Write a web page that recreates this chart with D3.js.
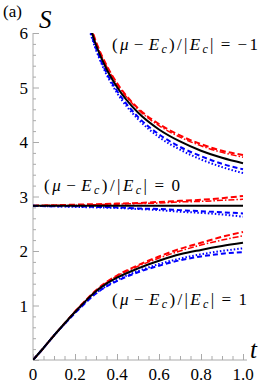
<!DOCTYPE html>
<html><head><meta charset="utf-8">
<script src="https://cdn.jsdelivr.net/npm/d3@7"></script>
<style>body{margin:0;background:#fff}svg{display:block}</style>
</head><body>
<script>
// ---- data ----
const tM1 = [0.25,0.3,0.35,0.4,0.5,0.6,0.7,0.8,0.9,1.0];
const m1Black   = [6.40,5.78,5.34,5.01,4.54,4.23,4.01,3.84,3.71,3.61];
const m1RedDash = [6.45,5.84,5.41,5.08,4.62,4.33,4.12,3.96,3.84,3.76];
const m1RedDD   = [6.43,5.82,5.39,5.06,4.60,4.30,4.09,3.93,3.81,3.72];
const m1BlueDash= [6.33,5.72,5.27,4.94,4.46,4.14,3.91,3.74,3.60,3.50];
const m1BlueDot = [6.30,5.69,5.24,4.90,4.42,4.09,3.86,3.68,3.54,3.43];

const t0 = [0,0.1,0.2,0.3,0.4,0.5,0.6,0.7,0.8,0.9,1.0];
const z0Black   = [2.83,2.83,2.83,2.83,2.83,2.83,2.83,2.83,2.83,2.83,2.83];
const z0RedDash = [2.83,2.84,2.85,2.86,2.87,2.88,2.90,2.92,2.94,2.97,3.01];
const z0RedDD   = [2.83,2.84,2.84,2.85,2.86,2.87,2.88,2.90,2.91,2.93,2.95];
const z0BlueDash= [2.83,2.82,2.82,2.81,2.80,2.78,2.77,2.75,2.73,2.71,2.69];
const z0BlueDot = [2.83,2.82,2.81,2.80,2.79,2.77,2.75,2.72,2.70,2.67,2.63];

const tP1 = [0,0.05,0.1,0.15,0.2,0.25,0.3,0.35,0.4,0.5,0.6,0.7,0.8,0.9,1.0];
const p1Black   = [0,0.22,0.45,0.67,0.88,1.08,1.26,1.40,1.51,1.68,1.82,1.94,2.02,2.09,2.15];
const p1RedDash = [0,0.22,0.45,0.67,0.89,1.09,1.28,1.43,1.55,1.74,1.90,2.04,2.15,2.26,2.35];
const p1RedDD   = [0,0.22,0.45,0.67,0.89,1.09,1.27,1.42,1.54,1.72,1.87,2.00,2.11,2.20,2.28];
const p1BlueDash= [0,0.22,0.45,0.66,0.86,1.05,1.22,1.35,1.45,1.61,1.73,1.83,1.90,1.95,1.98];
const p1BlueDot = [0,0.22,0.45,0.66,0.87,1.06,1.23,1.36,1.47,1.63,1.76,1.86,1.94,2.00,2.05];

const xTicks = [0,0.2,0.4,0.6,0.8,1.0];
const xTickLabels = ["0","0.2","0.4","0.6","0.8","1.0"];
const yTicks = [1,2,3,4,5,6];

// ---- drawing ----
const W=273,H=387;
const svg=d3.select("body").append("svg").attr("width",W).attr("height",H);
const x=d3.scaleLinear().domain([0,1]).range([33,243]);
const y=d3.scaleLinear().domain([0,6]).range([360,33]);
const serif="'Liberation Serif','DejaVu Serif',serif";

svg.append("clipPath").attr("id","clip").append("rect")
  .attr("x",x(0)).attr("y",y(6)).attr("width",x(1)-x(0)+5).attr("height",y(0)-y(6));

const axisCol="#aaa";
const gx=svg.append("g").attr("transform",`translate(0,${y(0)})`)
  .call(d3.axisTop(x).tickValues(d3.range(0,1.0001,0.05)).tickSize(4).tickFormat(""));
const gy=svg.append("g").attr("transform",`translate(${x(0)},0)`)
  .call(d3.axisRight(y).tickValues(d3.range(0,6.0001,0.2)).tickSize(3).tickFormat(""));
[gx,gy].forEach(g=>{g.select(".domain").attr("stroke",axisCol).attr("stroke-width",1);g.selectAll(".tick line").attr("stroke",axisCol);});
gx.selectAll(".tick line").filter(d=>Math.abs(d*5-Math.round(d*5))<1e-6).attr("y2",-6);
gy.selectAll(".tick line").filter(d=>Math.abs(d-Math.round(d))<1e-6).attr("x2",6);
gx.select(".domain").attr("d",`M${x(0)},0H${x(1)+4}`);
gy.select(".domain").attr("d",`M0,${y(0)}V${y(6)}`);

svg.append("g").selectAll("text").data(xTicks).join("text")
  .attr("x",d=>x(d)).attr("y",y(0)+20).attr("text-anchor","middle")
  .attr("font-family",serif).attr("font-size",17).text((d,i)=>xTickLabels[i]);
svg.append("g").selectAll("text").data(yTicks).join("text")
  .attr("x",x(0)-5).attr("y",d=>y(d)+6).attr("text-anchor","end")
  .attr("font-family",serif).attr("font-size",17).text(d=>d);

const line=d3.line().x(d=>x(d[0])).y(d=>y(d[1])).curve(d3.curveMonotoneX);
const plot=svg.append("g").attr("clip-path","url(#clip)");
const styles={
  black:{c:"#000",w:2,da:null},
  redDash:{c:"#f00",w:2,da:"6,3"},
  redDD:{c:"#f00",w:1.5,da:"6,2,1.5,2"},
  blueDash:{c:"#00f",w:2,da:"5,3"},
  blueDot:{c:"#00f",w:2,da:"1.5,2"}
};
const groups=[
  [tM1,{redDD:m1RedDD,redDash:m1RedDash,blueDot:m1BlueDot,blueDash:m1BlueDash,black:m1Black}],
  [t0,{redDD:z0RedDD,redDash:z0RedDash,blueDot:z0BlueDot,blueDash:z0BlueDash,black:z0Black}],
  [tP1,{redDD:p1RedDD,redDash:p1RedDash,blueDot:p1BlueDot,blueDash:p1BlueDash,black:p1Black}]
];
groups.forEach(([ts,ser])=>{
  Object.entries(ser).forEach(([k,vals])=>{
    const s=styles[k];
    plot.append("path").datum(ts.map((t,i)=>[t,vals[i]]))
      .attr("d",line).attr("fill","none").attr("stroke",s.c)
      .attr("stroke-width",s.w).attr("stroke-dasharray",s.da);
  });
});

// labels
svg.append("text").attr("x",3).attr("y",17).attr("font-family",serif).attr("font-size",17).text("(a)");
svg.append("text").attr("x",39).attr("y",28).attr("font-family",serif).attr("font-style","italic").attr("font-size",25).text("S");
svg.append("text").attr("x",250).attr("y",358).attr("font-family",serif).attr("font-style","italic").attr("font-size",25).text("t");

function ann(xp,yp,val){
  const t=svg.append("text").attr("x",xp).attr("y",yp).attr("font-family",serif).attr("font-size",17)
    .attr("xml:space","preserve").style("white-space","pre");
  t.append("tspan").text("(");
  t.append("tspan").attr("font-style","italic").text("μ");
  t.append("tspan").attr("dx",3).text("−");
  t.append("tspan").attr("dx",3).attr("font-style","italic").text("E");
  t.append("tspan").attr("font-style","italic").attr("font-size",12).attr("dy",3).text("c");
  t.append("tspan").attr("dy",-3).text(")/|");
  t.append("tspan").attr("font-style","italic").text("E");
  t.append("tspan").attr("font-style","italic").attr("font-size",12).attr("dy",3).text("c");
  t.append("tspan").attr("dy",-3).text("|");
  t.append("tspan").attr("dx",5).text("=");
  t.append("tspan").attr("dx",5).text(val);
  // stretch to match reference width
  const target=val==="0"?136:(val==="1"?135:146);
  const w=t.node().getComputedTextLength();
  if(w<target){ t.attr("textLength",target).attr("lengthAdjust","spacing"); }
}
ann(112,50,"−1");
ann(44,191,"0");
ann(112,305,"1");
</script>
</body></html>
